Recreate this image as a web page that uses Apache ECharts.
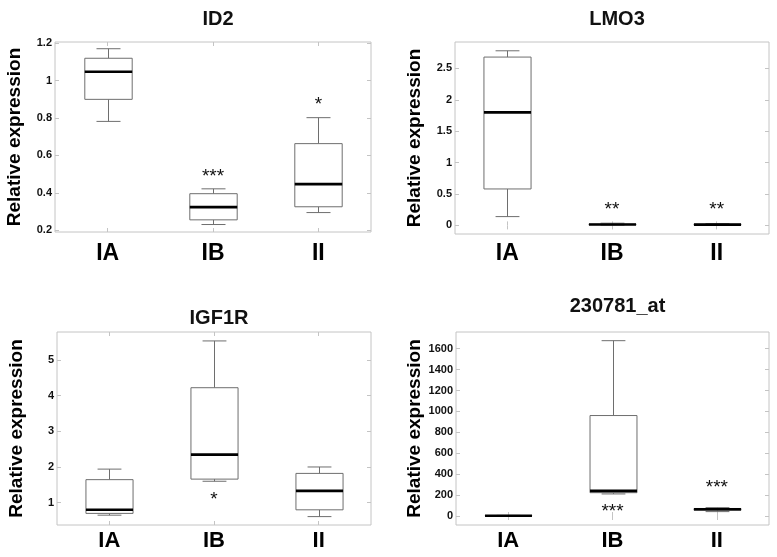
<!DOCTYPE html>
<html>
<head>
<meta charset="utf-8">
<script src="https://cdn.jsdelivr.net/npm/echarts@6/dist/echarts.min.js"></script>
<style>html,body{margin:0;padding:0;background:#fff}#c{width:777px;height:557px}</style>
</head>
<body>
<div id="c"></div>
<script>
// ---- data ----
const categories = ['IA', 'IB', 'II'];
const titles = ['ID2', 'LMO3', 'IGF1R', '230781_at'];
const yName = 'Relative expression';

// box stats per category: [lowWhisker, Q1, median, Q3, highWhisker]
const id2Boxes = [[0.782, 0.90, 1.048, 1.12, 1.171], [0.23, 0.255, 0.323, 0.395, 0.421], [0.294, 0.325, 0.446, 0.663, 0.802]];
const lmo3Boxes = [[0.14, 0.58, 1.80, 2.68, 2.78], [0.005, 0.012, 0.015, 0.02, 0.035], [0.005, 0.01, 0.013, 0.018, 0.028]];
const igf1rBoxes = [[0.65, 0.70, 0.80, 1.645, 1.94], [1.60, 1.66, 2.345, 4.22, 5.53], [0.61, 0.80, 1.33, 1.82, 2.0]];
const at230781Boxes = [[1, 2, 3, 4, 6], [211, 223, 240, 961, 1677], [42, 55, 64, 72, 80]];

// significance marks: value position and label per category
const id2StarY = [null, 0.505, 0.89];
const id2StarText = ['', '***', '*'];
const lmo3StarY = [null, 0.313, 0.313];
const lmo3StarText = ['', '**', '**'];
const igf1rStarY = [null, 1.19, null];
const igf1rStarText = ['', '*', ''];
const at230781StarY = [null, 83, 313];
const at230781StarText = ['', '***', '***'];

// axis ranges & tick labels
const id2Range = [0.19, 1.207];
const id2Ticks = [0.2, 0.4, 0.6, 0.8, 1, 1.2];
const lmo3Range = [-0.137, 2.92];
const lmo3Ticks = [0, 0.5, 1, 1.5, 2, 2.5];
const igf1rRange = [0.375, 5.78];
const igf1rTicks = [1, 2, 3, 4, 5];
const at230781Range = [-86, 1760];
const at230781Ticks = [0, 200, 400, 600, 800, 1000, 1200, 1400, 1600];

// ---- layout ----
const panels = [
  {boxes: id2Boxes, starY: id2StarY, starText: id2StarText, range: id2Range, ticks: id2Ticks,
   grid: {left: 55, top: 42, width: 316, height: 190}, titleTop: 4, xFont: 23, xMargin: 10},
  {boxes: lmo3Boxes, starY: lmo3StarY, starText: lmo3StarText, range: lmo3Range, ticks: lmo3Ticks,
   grid: {left: 455, top: 42, width: 314, height: 192}, titleTop: 4, xFont: 23, xMargin: 8},
  {boxes: igf1rBoxes, starY: igf1rStarY, starText: igf1rStarText, range: igf1rRange, ticks: igf1rTicks,
   grid: {left: 57, top: 332, width: 314, height: 193}, titleTop: 303, xFont: 22, xMargin: 5},
  {boxes: at230781Boxes, starY: at230781StarY, starText: at230781StarText, range: at230781Range, ticks: at230781Ticks,
   grid: {left: 456, top: 332, width: 313, height: 193}, titleTop: 291, xFont: 22, xMargin: 5}
];

const FONT = '"Liberation Sans", Arial, sans-serif';
const frameColor = '#c4c4c4';
const boxColor = '#6e6e6e';

function renderBox(params, api) {
  const x = api.value(0);
  const pLow = api.coord([x, api.value(1)]);
  const pQ1 = api.coord([x, api.value(2)]);
  const pMed = api.coord([x, api.value(3)]);
  const pQ3 = api.coord([x, api.value(4)]);
  const pHigh = api.coord([x, api.value(5)]);
  const band = api.size([1, 0])[0];
  const half = band * 0.225;
  const capHalf = band * 0.114;
  const cx = Math.round(pMed[0]) + 0.5;
  const ln = {stroke: boxColor, lineWidth: 1};
  return {
    type: 'group',
    children: [
      {type: 'line', shape: {x1: cx, y1: pHigh[1], x2: cx, y2: pQ3[1]}, style: ln},
      {type: 'line', shape: {x1: cx, y1: pQ1[1], x2: cx, y2: pLow[1]}, style: ln},
      {type: 'line', shape: {x1: cx - capHalf, y1: pHigh[1], x2: cx + capHalf, y2: pHigh[1]}, style: ln},
      {type: 'line', shape: {x1: cx - capHalf, y1: pLow[1], x2: cx + capHalf, y2: pLow[1]}, style: ln},
      {type: 'rect', shape: {x: cx - half, y: pQ3[1], width: 2 * half, height: pQ1[1] - pQ3[1]},
       style: {fill: '#fff', stroke: boxColor, lineWidth: 1}},
      {type: 'line', shape: {x1: cx - half, y1: pMed[1], x2: cx + half, y2: pMed[1]},
       style: {stroke: '#000', lineWidth: 2.6}}
    ]
  };
}

function makeStarRenderer(texts) {
  return function (params, api) {
    const t = texts[params.dataIndex];
    const p = api.coord([api.value(0), api.value(1)]);
    return {
      type: 'text',
      x: p[0], y: p[1] + 4,
      style: {text: t, textAlign: 'center', textVerticalAlign: 'middle',
              font: 'normal 19px ' + FONT, fill: '#111'}
    };
  };
}

const option = {
  animation: false,
  backgroundColor: '#fff',
  title: [], grid: [], xAxis: [], yAxis: [], series: []
};

panels.forEach((pn, i) => {
  const g = pn.grid;
  option.title.push({
    text: titles[i], left: g.left + g.width / 2, top: pn.titleTop, textAlign: 'center',
    textStyle: {fontFamily: FONT, fontWeight: 'bold', fontSize: 20, color: '#111'}
  });
  option.grid.push(Object.assign({show: true, borderColor: frameColor, borderWidth: 1, backgroundColor: '#fff'}, g));
  // bottom category axis
  option.xAxis.push({
    type: 'category', gridIndex: i, data: categories, boundaryGap: true,
    axisLine: {show: false},
    axisTick: {show: true, inside: true, alignWithLabel: true, length: 4, lineStyle: {color: frameColor}},
    axisLabel: {fontFamily: FONT, fontWeight: 'bold', fontSize: pn.xFont, color: '#000', margin: pn.xMargin}
  });
  // top mirror axis (ticks only)
  option.xAxis.push({
    type: 'category', gridIndex: i, data: categories, position: 'top', boundaryGap: true,
    axisLine: {show: false},
    axisTick: {show: true, inside: true, alignWithLabel: true, length: 4, lineStyle: {color: frameColor}},
    axisLabel: {show: false}
  });
  option.yAxis.push({
    type: 'value', gridIndex: i, min: pn.range[0], max: pn.range[1],
    name: yName, nameLocation: 'middle', nameGap: 31, nameRotate: 90,
    nameTextStyle: {fontFamily: FONT, fontWeight: 'bold', fontSize: 19, color: '#000'},
    axisLine: {show: false}, splitLine: {show: false},
    axisTick: {show: true, inside: true, length: 4, customValues: pn.ticks, lineStyle: {color: frameColor}},
    axisLabel: {fontFamily: FONT, fontWeight: 'bold', fontSize: 11, color: '#111', margin: 3,
                customValues: pn.ticks, formatter: v => String(v)}
  });
  option.yAxis.push({
    type: 'value', gridIndex: i, min: pn.range[0], max: pn.range[1], position: 'right',
    axisLine: {show: false}, splitLine: {show: false},
    axisTick: {show: true, inside: true, length: 4, customValues: pn.ticks, lineStyle: {color: frameColor}},
    axisLabel: {show: false}
  });
  option.series.push({
    type: 'custom', xAxisIndex: 2 * i, yAxisIndex: 2 * i,
    renderItem: renderBox,
    encode: {x: 0, y: [1, 2, 3, 4, 5]},
    data: pn.boxes.map((b, k) => [k].concat(b)),
    clip: false, silent: true
  });
  option.series.push({
    type: 'custom', xAxisIndex: 2 * i, yAxisIndex: 2 * i,
    renderItem: makeStarRenderer(pn.starText),
    encode: {x: 0, y: 1},
    data: pn.starY.map((v, k) => [k, v == null ? '-' : v]),
    silent: true
  });
});

const chart = echarts.init(document.getElementById('c'), null, {renderer: 'canvas'});
chart.setOption(option);
</script>
</body>
</html>
